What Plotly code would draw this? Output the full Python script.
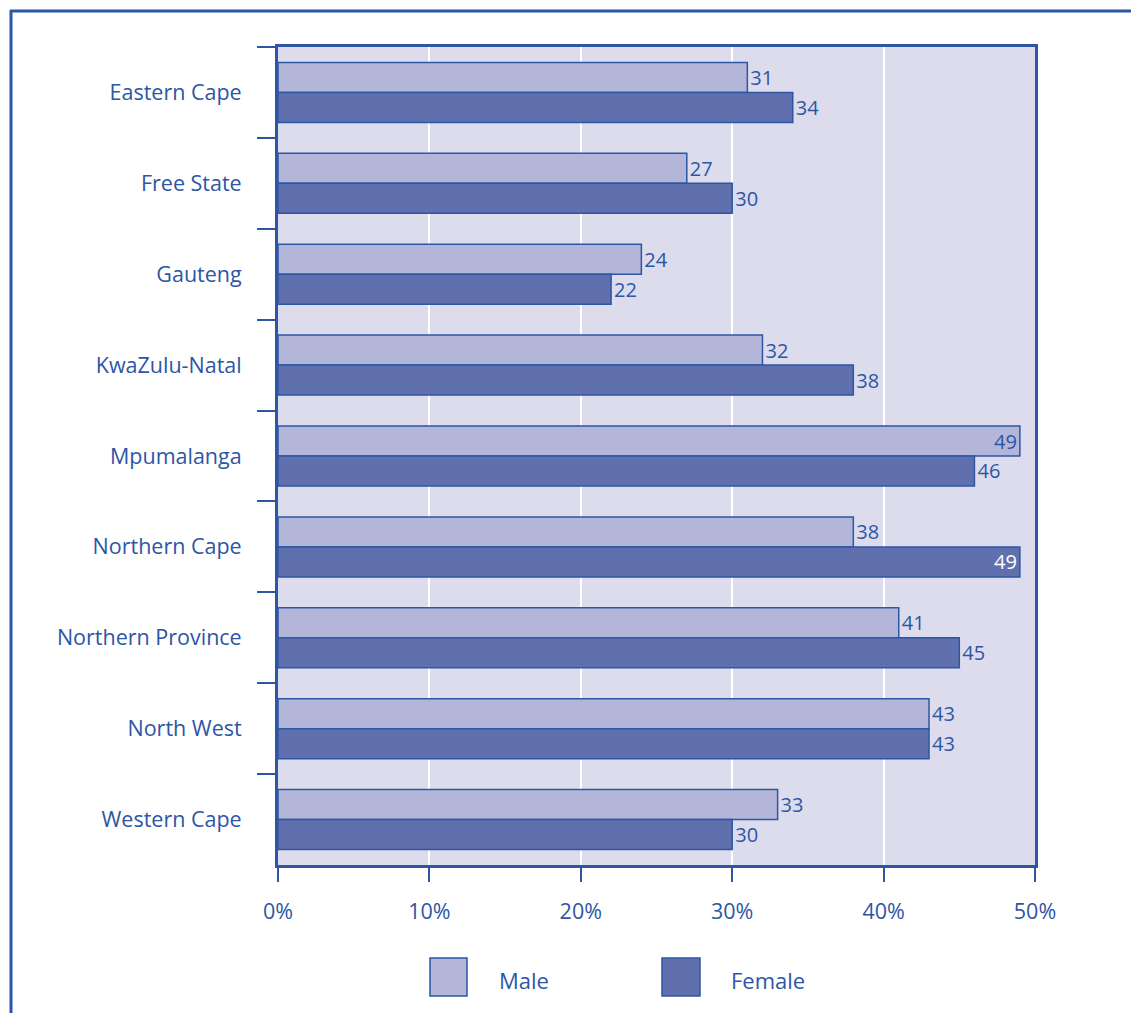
import plotly.graph_objects as go

provinces = ["Eastern Cape", "Free State", "Gauteng", "KwaZulu-Natal", "Mpumalanga",
             "Northern Cape", "Northern Province", "North West", "Western Cape"]
male = [31, 27, 24, 32, 49, 38, 41, 43, 33]
female = [34, 30, 22, 38, 46, 49, 45, 43, 30]
x_ticks = [0, 10, 20, 30, 40, 50]
x_tick_labels = ["0%", "10%", "20%", "30%", "40%", "50%"]

BLUE = "#2d56a5"
MALE_C = "#b3b6d8"
FEMALE_C = "#6070ae"
BG = "#dcdcec"
FONT = "Open Sans"

W, H = 1131, 1013
L, R, T, B = 278, 96, 47, 148
PW, PH = W - L - R, H - T - B


def px(x):
    return (x - L) / PW


def py(y):
    return (H - B - y) / PH


def pos(vals):
    return ["inside" if v >= 49 else "outside" for v in vals]


fig = go.Figure()
fig.add_trace(go.Bar(
    y=provinces, x=male, orientation="h", name="Male",
    marker=dict(color=MALE_C, line=dict(color=BLUE, width=1.5)),
    text=[str(v) for v in male], textposition=pos(male), textangle=0,
    insidetextanchor="end", constraintext="none",
    textfont=dict(color=BLUE, size=20, family=FONT),
    cliponaxis=False,
))
fig.add_trace(go.Bar(
    y=provinces, x=female, orientation="h", name="Female",
    marker=dict(color=FEMALE_C, line=dict(color=BLUE, width=1.5)),
    text=[str(v) for v in female], textposition=pos(female), textangle=0,
    insidetextanchor="end", constraintext="none",
    textfont=dict(color=["white" if v >= 49 else BLUE for v in female], size=20, family=FONT),
    cliponaxis=False,
))

shapes = [
    # outer frame
    dict(type="line", xref="paper", yref="paper", x0=px(10), x1=px(W + 5), y0=py(11), y1=py(11),
         line=dict(color=BLUE, width=3)),
    dict(type="line", xref="paper", yref="paper", x0=px(11), x1=px(11), y0=py(10), y1=py(H + 5),
         line=dict(color=BLUE, width=3)),
    # legend swatches
    dict(type="rect", xref="paper", yref="paper", x0=px(430), x1=px(467), y0=py(958), y1=py(996),
         fillcolor=MALE_C, line=dict(color=BLUE, width=1.5)),
    dict(type="rect", xref="paper", yref="paper", x0=px(662), x1=px(700), y0=py(958), y1=py(996),
         fillcolor=FEMALE_C, line=dict(color=BLUE, width=1.5)),
]
annotations = [
    dict(xref="paper", yref="paper", x=px(497), y=py(980), text="Male", showarrow=False,
         xanchor="left", yanchor="middle", font=dict(color=BLUE, size=22, family=FONT)),
    dict(xref="paper", yref="paper", x=px(729), y=py(980), text="Female", showarrow=False,
         xanchor="left", yanchor="middle", font=dict(color=BLUE, size=22, family=FONT)),
]

fig.update_layout(
    width=W, height=H,
    margin=dict(l=L, r=R, t=T, b=B, pad=0),
    paper_bgcolor="white", plot_bgcolor=BG,
    barmode="group", bargap=0.34, bargroupgap=0,
    showlegend=False,
    font=dict(family=FONT, color=BLUE, size=20),
    shapes=shapes, annotations=annotations,
    uniformtext=dict(mode=False),
)
fig.update_xaxes(
    range=[0, 50], tickvals=x_ticks, ticktext=x_tick_labels,
    showgrid=True, gridcolor="white", gridwidth=2,
    showline=True, linecolor=BLUE, linewidth=3, mirror=True,
    ticks="outside", ticklen=14, tickcolor=BLUE, tickwidth=1.5,
    tickfont=dict(size=21.5, color=BLUE, family=FONT), ticklabelstandoff=11,
    zeroline=False,
)
fig.update_yaxes(
    autorange="reversed", type="category",
    showline=True, linecolor=BLUE, linewidth=3, mirror=True,
    ticks="outside", tickson="boundaries", ticklen=18, tickcolor=BLUE, tickwidth=1.5,
    tickfont=dict(size=21.5, color=BLUE, family=FONT), ticklabelstandoff=29,
    showgrid=False,
)

fig.write_html("out.html")
